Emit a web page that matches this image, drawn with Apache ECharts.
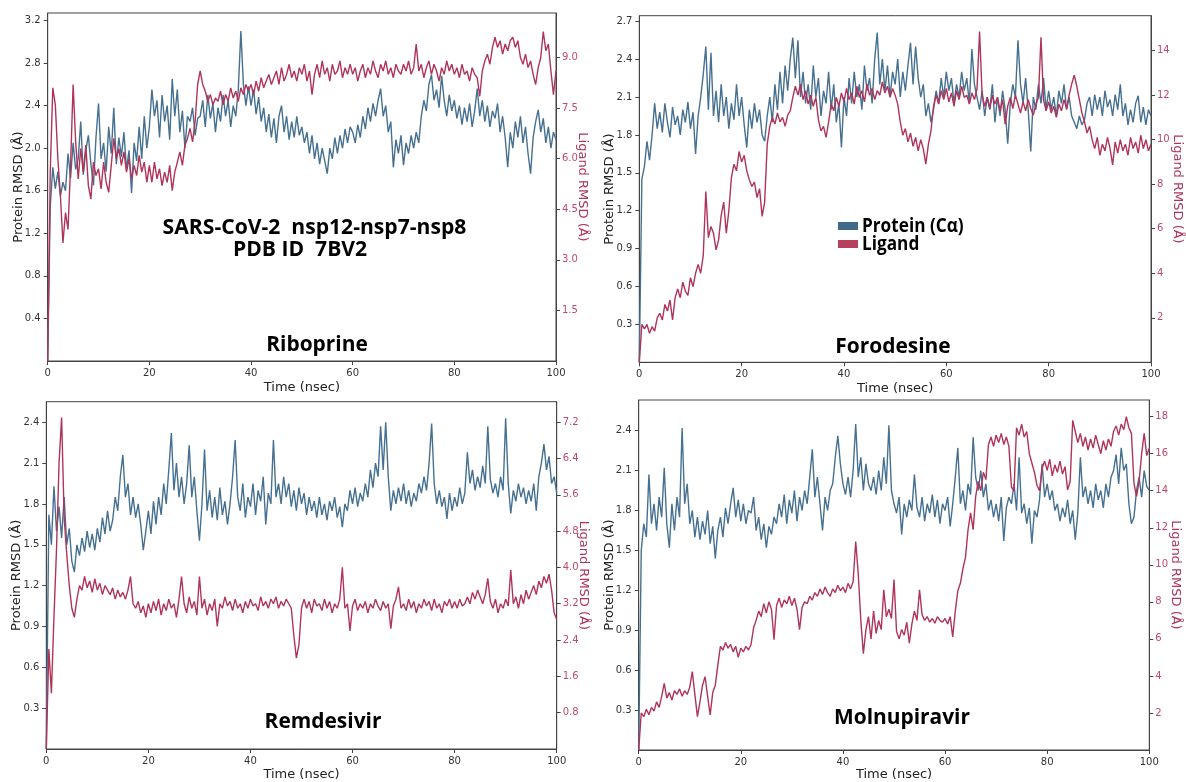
<!DOCTYPE html>
<html>
<head>
<meta charset="utf-8">
<script src="https://cdn.jsdelivr.net/npm/echarts@6/dist/echarts.min.js"></script>
<style>
html,body{margin:0;padding:0;background:#fff;}
#c{width:1186px;height:782px;}
</style>
</head>
<body>
<div id="c"></div>
<script>
// time step of every series: 0.5 ns, 0..100 ns
const TIME_STEP = 0.5;
const xTicks = [0, 20, 40, 60, 80, 100];

// Panel 1: Riboprine
const riboprineProtein = [
0,1.45,1.82,1.62,1.78,1.55,1.68,1.6,1.95,1.72,2.05,1.8,1.9,2.25,1.75,1.98,2.12,1.85,1.65,2.1,
2.42,1.9,2.05,1.78,2.2,1.95,2.38,1.85,2.1,1.92,2.15,1.8,1.98,1.58,2.05,1.88,2.2,1.9,2.3,2.0,
2.2,2.55,2.3,2.45,2.1,2.5,2.25,2.4,2.08,2.65,2.3,2.55,2.15,2.35,2.0,2.3,2.25,2.38,2.12,2.28,
2.3,2.45,2.2,2.5,2.28,2.42,2.15,2.38,2.25,2.5,2.3,2.45,2.2,2.4,2.3,2.55,3.1,2.6,2.4,2.58,
2.4,2.55,2.32,2.48,2.25,2.38,2.15,2.32,2.1,2.28,2.05,2.3,2.4,2.15,2.3,2.08,2.25,2.1,2.3,2.12,
2.2,2.05,2.15,1.95,2.12,1.9,2.05,1.85,2.0,1.88,1.76,2.0,1.9,2.1,1.95,2.12,2.0,2.18,2.05,2.2,
2.15,2.05,2.22,2.1,2.3,2.18,2.38,2.25,2.42,2.3,2.45,2.56,2.3,2.4,2.15,2.25,1.82,2.08,1.95,2.12,
1.84,2.05,1.95,2.12,2.0,2.15,2.05,2.3,2.45,2.35,2.6,2.69,2.45,2.55,2.38,2.68,2.45,2.3,2.5,2.35,
2.45,2.28,2.4,2.22,2.38,2.25,2.42,2.2,2.35,2.56,2.3,2.45,2.25,2.4,2.2,2.35,2.28,2.42,2.15,2.3,
2.1,1.82,2.15,2.0,2.25,2.1,2.3,2.05,2.2,1.95,1.76,2.1,2.25,2.36,2.15,2.28,2.05,2.2,2.0,2.15,2.08];
const riboprineLigand = [
0,5.6,8.1,7.6,6.0,4.9,3.5,4.4,3.9,5.8,8.2,6.5,5.4,6.3,5.6,6.4,5.2,4.8,5.9,5.5,
5.7,5.1,5.9,5.3,5.0,5.8,6.6,6.0,6.3,5.8,6.2,5.6,6.0,5.4,5.8,5.5,6.1,5.6,5.9,5.3,
5.8,5.3,5.9,5.4,5.7,5.2,5.6,5.3,5.8,5.05,5.6,5.9,6.2,5.8,6.4,6.6,6.9,6.5,7.1,8.2,
8.6,8.2,8.0,7.7,7.9,7.6,7.8,7.7,8.0,7.6,7.9,7.7,8.1,7.8,8.0,7.7,8.1,7.9,8.2,8.0,
8.2,7.9,8.3,8.0,8.4,8.1,8.3,8.5,8.2,8.4,8.6,8.2,8.7,8.3,8.5,8.8,8.4,8.6,8.3,8.7,
8.5,8.8,8.3,8.6,7.9,8.5,8.8,8.4,8.9,8.5,8.7,8.3,8.8,8.5,8.6,8.9,8.4,8.7,8.5,8.8,
8.5,8.7,8.3,8.6,8.8,8.4,8.7,8.5,8.9,8.6,8.4,8.8,8.6,8.9,8.5,8.7,8.4,8.8,8.6,8.5,
8.8,8.6,8.9,8.5,8.7,9.4,8.6,8.8,8.4,8.7,8.9,8.5,8.8,8.6,8.3,8.7,8.5,8.9,8.6,8.8,
8.5,8.7,8.4,8.8,8.5,8.6,8.3,8.7,8.5,8.4,7.85,8.6,8.9,9.1,8.8,9.3,9.6,9.3,9.5,9.1,
9.4,9.2,9.5,9.6,9.3,9.5,9.0,8.8,9.1,8.7,8.9,8.5,8.2,8.7,9.0,9.77,9.2,9.4,8.6,7.9,8.6];

// Panel 2: Forodesine
const forodesineProtein = [
0,1.45,1.55,1.75,1.6,1.8,2.05,1.85,1.98,1.82,2.05,1.9,1.78,2.02,1.88,1.95,1.8,2.0,1.9,2.06,
1.85,1.98,1.65,1.95,2.1,2.28,2.5,2.0,2.45,1.95,2.15,1.9,2.2,1.95,2.1,1.85,2.05,1.92,2.2,1.95,
2.1,1.88,1.7,2.0,1.85,2.05,1.9,2.0,1.8,1.75,1.95,2.1,1.9,2.2,2.0,2.3,2.05,2.35,2.15,2.4,
2.57,2.25,2.55,2.1,2.3,2.05,2.2,2.0,2.35,2.1,2.25,1.95,2.15,2.05,2.3,2.0,2.2,1.9,2.05,1.7,
2.1,1.95,2.25,2.05,2.3,2.1,2.2,2.0,2.35,2.15,2.25,2.05,2.4,2.61,2.2,2.4,2.15,2.35,2.1,2.3,
2.2,2.4,2.1,2.3,2.15,2.35,2.53,2.2,2.5,2.25,2.1,2.2,1.95,2.05,1.9,2.0,2.15,2.05,2.25,2.1,
2.3,2.15,2.25,2.05,2.2,2.1,2.3,2.15,2.25,2.05,2.48,2.2,2.1,2.0,2.15,1.95,2.1,2.0,2.2,1.9,
2.1,1.95,2.15,2.0,1.73,2.05,2.2,2.1,2.55,2.2,2.05,2.25,2.0,1.67,2.1,2.0,2.2,2.05,2.25,2.0,
2.15,2.0,2.1,1.95,2.15,2.05,2.2,2.0,2.1,1.95,1.9,1.85,1.95,1.88,1.92,2.05,2.1,1.95,2.12,2.0,
2.1,1.95,2.15,2.02,2.08,1.95,2.12,2.0,2.2,1.95,2.05,1.88,2.0,1.9,2.05,2.11,1.9,2.02,1.88,2.0,1.95];
const forodesineLigand = [
0,1.7,1.5,1.7,1.3,1.6,1.4,2.0,2.2,1.9,2.6,2.3,2.8,1.9,2.9,3.3,2.9,3.6,3.2,3.0,
3.8,3.4,4.0,4.4,4.0,4.8,7.67,5.6,6.1,5.8,5.05,5.5,6.6,7.2,5.8,6.8,8.3,8.9,8.6,9.47,
9.0,9.3,8.6,8.2,7.9,8.1,7.4,7.8,6.55,7.2,9.8,10.6,11.0,10.7,11.2,10.8,11.0,10.6,11.1,11.3,
11.9,12.4,12.0,12.5,11.8,12.2,11.6,12.0,11.5,11.9,10.9,10.4,10.6,10.1,10.8,11.6,11.3,11.9,11.5,12.1,
11.7,12.3,11.8,12.1,11.6,12.4,11.9,12.2,11.7,12.5,12.0,12.3,11.8,12.2,12.0,12.6,12.1,12.4,11.9,12.3,
12.0,11.6,10.8,10.2,10.5,9.9,10.3,9.7,10.1,9.5,10.0,9.6,8.9,9.8,10.4,11.5,12.0,11.6,12.2,11.8,
12.3,11.7,12.1,11.5,12.2,11.8,12.4,11.9,12.0,11.6,12.1,11.8,12.3,14.86,12.0,11.5,11.9,11.4,12.0,11.6,
11.9,11.3,11.8,10.7,11.5,11.9,11.4,12.0,11.6,11.2,11.7,11.3,11.8,11.4,11.1,11.6,11.9,14.6,11.8,11.3,
11.7,11.2,11.5,11.0,11.6,11.3,11.8,11.4,12.0,12.5,12.9,12.4,11.8,11.2,10.8,10.3,10.6,10.0,9.6,10.1,
9.3,9.8,9.5,10.1,9.6,8.87,9.9,9.4,10.0,9.5,9.8,9.3,10.1,9.6,9.9,9.4,10.2,9.6,10.0,9.5,9.8];

// Panel 3: Remdesivir
const remdesivirProtein = [
0,1.72,1.5,1.93,1.6,1.78,1.55,1.85,1.5,1.62,1.38,1.3,1.5,1.42,1.55,1.45,1.6,1.48,1.58,1.46,
1.62,1.52,1.7,1.58,1.75,1.6,1.68,1.85,1.75,2.0,2.16,1.85,1.95,1.72,1.85,1.7,1.8,1.65,1.46,1.6,
1.75,1.58,1.82,1.65,1.85,1.72,1.95,1.8,2.05,2.32,1.9,2.1,1.85,2.0,1.8,1.95,2.23,1.85,2.0,1.75,
1.53,1.8,2.2,1.75,1.9,1.7,1.85,1.68,1.92,1.72,1.82,1.65,1.8,2.0,2.27,1.85,1.75,1.95,1.7,1.85,
1.78,1.95,1.72,1.9,1.82,2.0,1.65,1.88,1.8,2.27,1.85,1.95,1.8,2.0,1.85,1.95,1.78,1.9,1.75,1.92,
1.8,1.88,1.72,1.85,1.75,1.82,1.7,1.85,1.72,1.8,1.68,1.82,1.75,1.85,1.7,1.78,1.63,1.8,1.75,1.9,
1.8,1.92,1.78,1.88,1.82,1.95,1.85,2.05,1.92,2.1,2.0,2.37,2.05,2.4,2.0,1.75,1.9,1.8,1.92,1.82,
1.95,1.8,1.9,1.78,1.88,1.82,1.95,1.88,2.0,1.9,2.1,2.39,1.95,1.8,1.9,1.78,1.85,1.69,1.88,1.75,
1.85,1.78,1.92,1.8,1.88,2.18,1.95,2.05,1.9,2.0,1.92,2.08,1.95,2.37,1.98,1.88,1.95,1.85,2.0,1.9,
2.43,1.95,1.73,1.9,1.82,1.95,1.85,1.92,1.8,1.9,1.82,1.95,1.75,2.0,2.1,2.24,2.05,2.15,1.95,2.0,1.88];
const remdesivirLigand = [
0,2.2,1.23,2.9,4.4,6.3,7.3,5.1,4.3,3.6,3.1,2.9,3.3,3.6,3.5,3.8,3.55,3.7,3.45,3.75,
3.5,3.65,3.4,3.6,3.5,3.4,3.55,3.3,3.5,3.35,3.45,3.3,3.5,3.8,3.2,3.1,3.25,3.0,3.15,2.9,
3.2,3.0,3.25,3.05,3.3,2.95,3.2,3.05,3.3,3.1,3.2,2.9,3.3,3.8,3.2,3.0,3.35,3.1,3.25,2.95,
3.8,3.1,3.3,2.95,3.2,3.05,3.3,2.7,3.2,3.1,3.35,3.15,3.25,3.05,3.3,3.1,3.2,3.0,3.25,3.1,
3.3,3.15,3.2,3.05,3.35,3.15,3.25,3.1,3.3,3.2,3.35,3.1,3.25,3.15,3.3,3.2,3.1,2.5,2.0,2.3,
3.1,3.3,3.1,3.25,3.0,3.3,3.15,3.2,3.05,3.3,3.1,3.25,3.0,3.2,3.1,3.3,4.0,3.1,3.2,2.6,
3.15,3.3,3.05,3.2,3.1,3.25,3.0,3.2,3.1,3.3,3.15,3.05,3.25,3.1,3.2,2.65,3.15,3.3,3.57,3.1,
3.2,3.05,3.3,3.1,3.25,3.0,3.2,3.1,3.3,3.15,3.25,3.05,3.3,3.1,3.2,3.0,3.25,3.15,3.3,3.1,
3.25,3.1,3.3,3.15,3.2,3.35,3.2,3.45,3.3,3.5,3.35,3.2,3.4,3.76,3.25,3.1,3.3,3.0,3.2,3.1,
3.3,3.15,3.94,3.2,3.35,3.1,3.4,3.2,3.5,3.3,3.45,3.6,3.4,3.7,3.55,3.8,3.65,3.85,3.5,3.0,2.85];

// Panel 4: Molnupiravir
const molnupiravirProtein = [
0,1.5,1.7,1.6,2.07,1.7,1.85,1.65,1.9,1.75,2.12,1.7,1.52,1.85,1.65,1.9,1.75,2.42,1.85,2.0,
1.7,1.8,1.6,1.75,1.58,1.72,1.62,1.8,1.55,1.68,1.44,1.65,1.75,1.6,1.82,1.7,1.85,1.97,1.75,1.88,
1.72,1.85,1.7,1.8,1.78,1.9,1.65,1.75,1.58,1.7,1.52,1.68,1.62,1.75,1.7,1.85,1.75,1.92,1.7,1.88,
1.78,1.95,1.72,1.9,1.8,1.95,1.85,2.05,2.26,1.9,2.05,1.85,1.65,1.9,1.8,1.95,2.0,2.2,2.36,2.15,
2.0,1.92,2.05,1.9,2.1,2.45,2.05,2.2,1.95,2.15,2.0,1.95,2.05,1.92,2.1,1.95,2.2,2.0,2.44,1.95,
1.85,1.78,1.9,1.62,1.85,1.75,1.88,1.8,2.07,1.82,1.75,1.9,1.72,1.85,1.78,1.92,1.75,1.88,1.7,1.85,
1.8,1.9,1.68,1.85,2.05,2.27,1.85,1.95,1.8,2.0,1.92,2.35,2.05,1.95,2.1,1.9,2.0,1.8,1.88,1.75,
1.85,1.72,1.9,1.57,1.82,1.9,1.85,2.0,1.8,2.2,1.78,1.85,1.7,1.82,1.55,1.8,1.75,1.88,2.15,1.9,
2.0,1.88,1.95,1.8,1.85,1.72,1.82,1.75,1.88,1.7,1.8,1.58,1.78,2.2,1.9,1.98,1.85,1.95,1.82,2.0,
1.88,1.95,1.82,2.0,1.9,2.05,2.1,2.22,2.0,2.27,2.1,2.15,1.85,1.7,1.75,1.95,2.05,1.9,2.1,1.98,1.95];
const molnupiravirLigand = [
0,2.0,1.8,2.2,1.9,2.3,2.1,2.6,2.3,2.9,3.6,2.8,3.1,2.7,3.2,3.0,3.3,2.9,3.2,3.0,
3.4,4.23,3.0,1.8,2.6,3.5,3.96,2.9,1.9,3.1,3.5,4.6,5.6,5.4,5.8,5.5,5.7,5.3,5.6,5.0,
5.5,5.3,5.6,5.4,5.7,6.6,7.0,7.5,7.2,7.9,7.4,8.0,7.6,5.95,7.8,8.2,7.7,8.1,7.9,8.3,
7.8,8.2,7.6,6.5,7.7,8.0,7.9,8.3,8.1,8.5,8.3,8.7,8.4,8.8,8.5,8.3,8.7,8.5,8.9,8.6,
8.8,8.5,9.0,8.7,9.1,11.26,9.5,7.0,5.2,6.5,7.2,6.0,7.5,6.3,7.0,6.5,8.65,7.2,7.6,7.1,
9.2,6.4,6.0,6.5,6.2,6.9,5.77,6.8,7.5,7.0,8.65,7.3,7.0,7.2,6.9,7.1,6.85,7.2,7.0,6.9,
7.1,6.8,7.2,6.1,7.5,8.6,9.0,9.8,10.4,11.9,12.8,11.9,13.7,14.5,14.0,15.0,14.6,16.5,16.9,16.4,
17.0,16.6,17.1,16.5,16.9,16.4,14.2,14.0,17.4,17.0,17.6,16.9,17.2,16.0,15.5,15.0,14.3,14.0,15.2,15.6,
15.1,15.7,14.8,15.4,15.0,15.6,14.9,15.3,14.05,14.5,17.8,17.2,16.6,17.1,16.4,16.9,16.2,16.8,16.3,17.0,
16.5,16.0,16.7,16.2,16.8,16.4,17.2,17.5,17.0,17.6,17.3,18.0,17.4,17.1,14.4,13.7,14.5,16.0,17.1,15.9,16.3];

// Tick labels
const proteinTicks = [
  [0.4,0.8,1.2,1.6,2.0,2.4,2.8,3.2],
  [0.3,0.6,0.9,1.2,1.5,1.8,2.1,2.4,2.7],
  [0.3,0.6,0.9,1.2,1.5,1.8,2.1,2.4],
  [0.3,0.6,0.9,1.2,1.5,1.8,2.1,2.4]
];
const ligandTicks = [
  [1.5,3.0,4.5,6.0,7.5,9.0],
  [2,4,6,8,10,12,14],
  [0.8,1.6,2.4,3.2,4.0,4.8,5.6,6.4,7.2],
  [2,4,6,8,10,12,14,16,18]
];
const proteinMax = [3.27, 2.744, 2.551, 2.63];
const ligandMax = [10.32, 15.57, 7.65, 18.9];
const ligandDecimals = [1, 0, 1, 0];
const drugNames = ['Riboprine', 'Forodesine', 'Remdesivir', 'Molnupiravir'];
const proteinSeries = [riboprineProtein, forodesineProtein, remdesivirProtein, molnupiravirProtein];
const ligandSeries = [riboprineLigand, forodesineLigand, remdesivirLigand, molnupiravirLigand];

const BLUE = '#467091';
const RED = '#b0345a';
const RED_TXT = '#c04a6a';
const AXIS = '#444';
const FONT = 'DejaVu Sans';

const grids = [
  {left: 47.7, top: 13, width: 508.3, height: 348},
  {left: 639.3, top: 15.7, width: 511.7, height: 346.6},
  {left: 46.3, top: 401.7, width: 510.4, height: 347.3},
  {left: 638.7, top: 400, width: 510.6, height: 350}
];
const xNameGap = [20, 20, 19, 18];

function pairs(arr) { return arr.map((v, i) => [i * TIME_STEP, v]); }

const option = {
  animation: false,
  backgroundColor: '#fff',
  grid: grids.map(g => Object.assign({show: true, borderColor: AXIS, borderWidth: 1, containLabel: false}, g)),
  xAxis: grids.map((g, i) => ({
    type: 'value', gridIndex: i, min: 0, max: 100,
    name: 'Time (nsec)', nameLocation: 'middle', nameGap: xNameGap[i], nameMoveOverlap: false,
    nameTextStyle: {fontFamily: FONT, fontSize: 13, color: '#222'},
    axisLine: {show: true, lineStyle: {color: AXIS, width: 1}},
    axisTick: {show: true, length: 4, lineStyle: {color: AXIS}, customValues: xTicks},
    axisLabel: {fontFamily: FONT, fontSize: 10, color: '#333', margin: 7, customValues: xTicks},
    splitLine: {show: false}
  })),
  yAxis: [],
  series: [],
  graphic: []
};

for (let i = 0; i < 4; i++) {
  option.yAxis.push({
    type: 'value', gridIndex: i, position: 'left', min: 0, max: proteinMax[i],
    name: 'Protein RMSD (Å)', nameLocation: 'middle', nameGap: 23, nameRotate: 90, nameMoveOverlap: false,
    nameTextStyle: {fontFamily: FONT, fontSize: 13, color: '#222'},
    axisLine: {show: true, onZero: false, lineStyle: {color: AXIS, width: 1}},
    axisTick: {show: true, length: 4, lineStyle: {color: AXIS}, customValues: proteinTicks[i]},
    axisLabel: {fontFamily: FONT, fontSize: 10, color: '#333', margin: 7, customValues: proteinTicks[i],
      formatter: v => Number(v).toFixed(1)},
    splitLine: {show: false}
  });
  option.yAxis.push({
    type: 'value', gridIndex: i, position: 'right', min: 0, max: ligandMax[i],
    name: 'Ligand RMSD (Å)', nameLocation: 'middle', nameGap: 20, nameRotate: -90, nameMoveOverlap: false,
    nameTextStyle: {fontFamily: FONT, fontSize: 13, color: RED},
    axisLine: {show: true, onZero: false, lineStyle: {color: AXIS, width: 1}},
    axisTick: {show: true, length: 4, lineStyle: {color: AXIS}, customValues: ligandTicks[i]},
    axisLabel: {fontFamily: FONT, fontSize: 10, color: RED_TXT, margin: 6, customValues: ligandTicks[i],
      formatter: v => Number(v).toFixed(ligandDecimals[i])},
    splitLine: {show: false}
  });
  option.series.push({
    type: 'line', name: 'Protein (Cα)', xAxisIndex: i, yAxisIndex: 2 * i,
    data: pairs(proteinSeries[i]), showSymbol: false, symbol: 'none',
    lineStyle: {color: BLUE, width: 1.4}, itemStyle: {color: BLUE}, z: 2
  });
  option.series.push({
    type: 'line', name: 'Ligand', xAxisIndex: i, yAxisIndex: 2 * i + 1,
    data: pairs(ligandSeries[i]), showSymbol: false, symbol: 'none',
    lineStyle: {color: RED, width: 1.4}, itemStyle: {color: RED}, z: 3
  });
}

const TITLE_FONT = "bold 22px 'Open Sans'";
const SX = 0.95;
const titlePos = [[317, 345], [893, 347], [323, 722], [902, 718]];
drugNames.forEach((n, i) => {
  option.graphic.push({type: 'text', x: titlePos[i][0], y: titlePos[i][1], scaleX: SX, z: 10,
    style: {text: n, font: TITLE_FONT, fill: '#000', textAlign: 'center', textVerticalAlign: 'middle'}});
});
option.graphic.push({type: 'text', x: 314.5, y: 228, scaleX: 0.96, z: 10,
  style: {text: 'SARS-CoV-2  nsp12-nsp7-nsp8', font: TITLE_FONT, fill: '#000', textAlign: 'center', textVerticalAlign: 'middle'}});
option.graphic.push({type: 'text', x: 300, y: 250, scaleX: 0.96, z: 10,
  style: {text: 'PDB ID  7BV2', font: TITLE_FONT, fill: '#000', textAlign: 'center', textVerticalAlign: 'middle'}});
// legend
option.graphic.push({type: 'rect', shape: {x: 838, y: 222, width: 20, height: 8}, style: {fill: '#3e6a8e'}, z: 10});
option.graphic.push({type: 'rect', shape: {x: 838, y: 240, width: 20, height: 8}, style: {fill: '#b8405f'}, z: 10});
option.graphic.push({type: 'text', x: 862, y: 226, scaleX: 0.86, z: 10,
  style: {text: 'Protein (Cα)', font: "bold 20px 'Open Sans'", fill: '#000', textAlign: 'left', textVerticalAlign: 'middle'}});
option.graphic.push({type: 'text', x: 862, y: 244, scaleX: 0.86, z: 10,
  style: {text: 'Ligand', font: "bold 20px 'Open Sans'", fill: '#000', textAlign: 'left', textVerticalAlign: 'middle'}});

const chart = echarts.init(document.getElementById('c'), null, {renderer: 'canvas'});
chart.setOption(option);
</script>
</body>
</html>
